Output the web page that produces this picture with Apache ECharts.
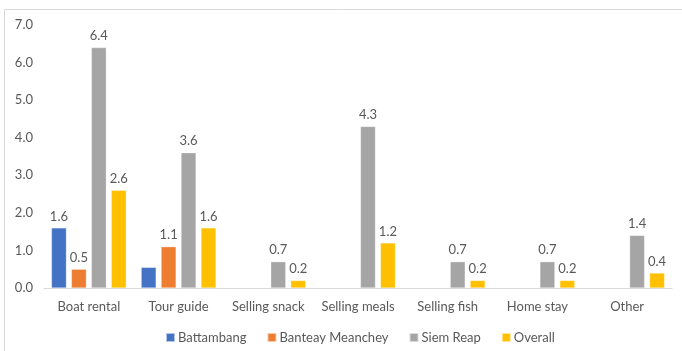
<!DOCTYPE html>
<html>
<head>
<meta charset="utf-8">
<script src="https://cdn.jsdelivr.net/npm/echarts@6/dist/echarts.min.js"></script>
<style>
  html, body { margin: 0; padding: 0; background: #fff; }
  #chart { width: 682px; height: 351px; }
</style>
</head>
<body>
<div id="chart"></div>
<script>
// Income activities by province (average value)
const categories = ['Boat rental', 'Tour guide', 'Selling snack', 'Selling meals', 'Selling fish', 'Home stay', 'Other'];
const battambang = [1.6, 0.55, null, null, null, null, null];
const banteayMeanchey = [0.5, 1.1, null, null, null, null, null];
const siemReap = [6.4, 3.6, 0.7, 4.3, 0.7, 0.7, 1.4];
const overall = [2.6, 1.6, 0.2, 1.2, 0.2, 0.2, 0.4];
// values that are drawn without a value label
const unlabelled = { 'Battambang': [1] };

const FONT = 'Lato, "Liberation Sans", sans-serif';
const TEXT = '#595959';

function makeSeries(name, values, color) {
  const hide = unlabelled[name] || [];
  return {
    name: name,
    type: 'bar',
    barWidth: 15,
    barGap: '33%',
    itemStyle: { color: color, borderColor: 'rgba(255,255,255,0.6)', borderWidth: 0.5 },
    label: {
      show: true,
      position: 'top',
      distance: 5,
      color: TEXT,
      fontFamily: FONT,
      fontSize: 13,
      formatter: p => (p.value == null || hide.includes(p.dataIndex)) ? '' : p.value.toFixed(1)
    },
    data: values
  };
}

const chart = echarts.init(document.getElementById('chart'), null, { renderer: 'canvas' });
chart.setOption({
  animation: false,
  backgroundColor: '#fff',
  textStyle: { fontFamily: FONT },
  graphic: [{
    type: 'rect',
    shape: { x: 4.5, y: 9.5, width: 700, height: 400 },
    style: { fill: 'none', stroke: '#d9d9d9', lineWidth: 1 },
    silent: true
  }],
  grid: { left: 44, right: 10, top: 25, bottom: 63 },
  legend: {
    bottom: 2,
    left: 160,
    itemWidth: 9,
    itemHeight: 9,
    itemGap: 20,
    icon: 'rect',
    textStyle: { color: TEXT, fontSize: 13, fontFamily: FONT, padding: [0, 0, 0, -2] }
  },
  xAxis: {
    type: 'category',
    data: categories,
    axisLine: { lineStyle: { color: '#d9d9d9', width: 1 } },
    axisTick: { show: false },
    axisLabel: { color: TEXT, fontSize: 13, fontFamily: FONT, margin: 12, interval: 0 }
  },
  yAxis: {
    type: 'value',
    min: 0,
    max: 7,
    interval: 1,
    splitLine: { show: false },
    axisLine: { show: false },
    axisTick: { show: false },
    axisLabel: {
      color: TEXT, fontSize: 13, fontFamily: FONT, margin: 11,
      formatter: v => v.toFixed(1)
    }
  },
  series: [
    makeSeries('Battambang', battambang, '#4472C4'),
    makeSeries('Banteay Meanchey', banteayMeanchey, '#ED7D31'),
    makeSeries('Siem Reap', siemReap, '#A5A5A5'),
    makeSeries('Overall', overall, '#FFC000')
  ]
});
</script>
</body>
</html>
